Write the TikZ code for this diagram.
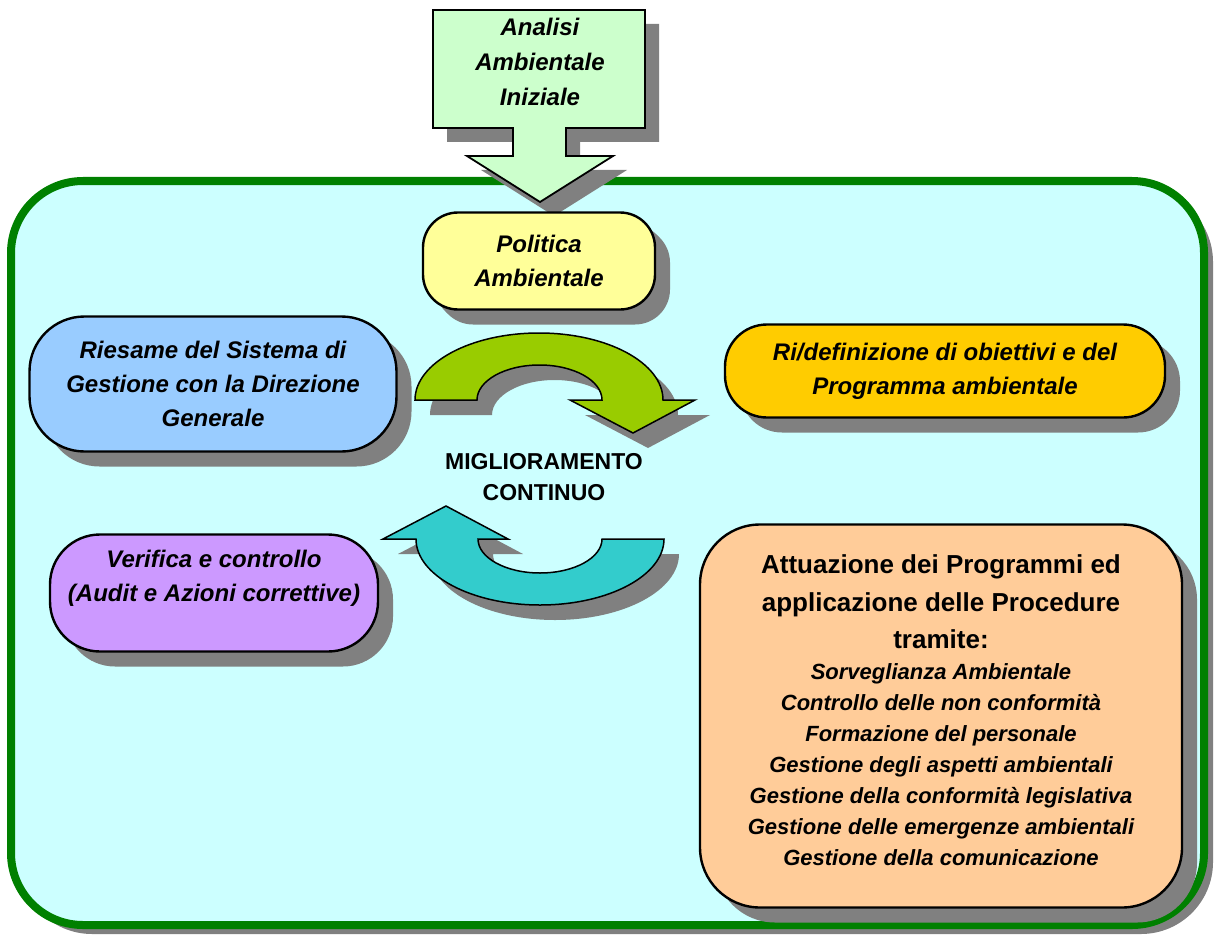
\documentclass[tikz,border=0pt]{standalone}
\usepackage{fontspec}
\setmainfont{Liberation Sans}
\usetikzlibrary{shadows}

\definecolor{framegreen}{HTML}{008000}
\definecolor{skyfill}{HTML}{CCFFFF}
\definecolor{mintfill}{HTML}{CCFFCC}
\definecolor{lemonfill}{HTML}{FFFF99}
\definecolor{bluefill}{HTML}{99CCFF}
\definecolor{goldfill}{HTML}{FFCC00}
\definecolor{lilacfill}{HTML}{CC99FF}
\definecolor{peachfill}{HTML}{FFCC99}
\definecolor{limefill}{HTML}{99CC00}
\definecolor{tealfill}{HTML}{33CCCC}
\definecolor{shadowgray}{HTML}{808080}

\newcommand\titolo[1]{{\upshape\fontsize{26}{36}\selectfont #1}}

\begin{document}
\begin{tikzpicture}[x=1pt,y=-1pt,
    grayshadow/.style={drop shadow={shadow xshift=#1,shadow yshift=-#1,opacity=1,fill=shadowgray}},
    box/.style={draw,line width=2.4pt,rounded corners=#1,align=center,inner sep=0pt,
      font=\bfseries\itshape\fontsize{24}{34}\selectfont,grayshadow=15pt},
    turnarrow/.style={draw,line width=1.5pt,line join=miter,grayshadow=15pt}]
  \useasboundingbox (0,0) rectangle (1214,936);

  % cornice
  \path[draw=framegreen,line width=8pt,fill=skyfill,rounded corners=72pt,grayshadow=9pt]
    (11,181) rectangle (1204,925);

  % freccia iniziale
  \path[draw,line width=1.8pt,fill=mintfill,line join=miter,grayshadow=14pt]
    (433,10) -- (645,10) -- (645,128) -- (566,128) -- (566,156) -- (613,156)
    -- (540,202) -- (467,156) -- (513,156) -- (513,128) -- (433,128) -- cycle;
  \node(analisi) at (540,62) [font=\bfseries\itshape\fontsize{24}{35}\selectfont,align=center]
    {Analisi\\Ambientale\\Iniziale};

  \node(politica) at (539,261) [box=35pt,fill=lemonfill,minimum width=232pt,minimum height=97pt,
    grayshadow=12pt] {Politica\\Ambientale};

  % ciclo
  \path[turnarrow,fill=limefill]
    (415,400) arc[start angle=180,end angle=360,x radius=124,y radius=67]
    -- (695,400) -- (633,433) -- (570,400) -- (602,400)
    arc[start angle=0,end angle=-180,x radius=62.5,y radius=35] -- cycle;
  \path[turnarrow,fill=tealfill]
    (664,539) arc[start angle=0,end angle=180,x radius=124,y radius=66]
    -- (383,539) -- (446,506) -- (508,539) -- (478,539)
    arc[start angle=180,end angle=0,x radius=62,y radius=34] -- cycle;
  \node(migl) at (544,477) [font=\bfseries\fontsize{23}{31}\selectfont,align=center]
    {MIGLIORAMENTO\\CONTINUO};

  \node(riesame) at (213,384) [box=55pt,fill=bluefill,minimum width=367pt,minimum height=135pt]
    {Riesame del Sistema di\\Gestione con la Direzione\\Generale};
  \node(ridef) at (945,371) [box=42pt,fill=goldfill,minimum width=440pt,minimum height=93pt]
    {Ri/definizione di obiettivi e del\\Programma ambientale};
  \node(verifica) at (214,593) [box=50pt,fill=lilacfill,minimum width=328pt,minimum height=117pt]
    {Verifica e controllo\\(Audit e Azioni correttive)\\\mbox{}};
  \node(attuazione) at (941,716) [box=60pt,fill=peachfill,minimum width=482pt,minimum height=383pt,
    font=\bfseries\itshape\fontsize{22}{31}\selectfont]
    {\titolo{Attuazione dei Programmi ed}\\[7pt]
     \titolo{applicazione delle Procedure}\\[6pt]
     \titolo{tramite:}\\
     Sorveglianza Ambientale\\
     Controllo delle non conformità\\
     Formazione del personale\\
     Gestione degli aspetti ambientali\\
     Gestione della conformità legislativa\\
     Gestione delle emergenze ambientali\\
     Gestione della comunicazione\\[-19pt]\mbox{}};
\end{tikzpicture}
\end{document}
